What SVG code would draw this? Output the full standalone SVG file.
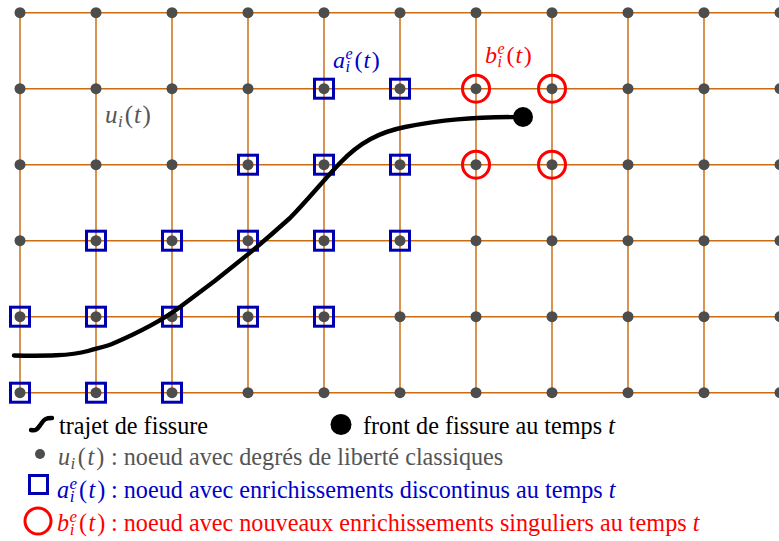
<svg xmlns="http://www.w3.org/2000/svg" width="779" height="541" viewBox="0 0 779 541">
<style>
.h{stroke:#c96c14;stroke-width:1.6;fill:none}
.v{stroke:#cd7a26;stroke-width:1.6;fill:none}
.dot{fill:#4d4d4d}
.sq{fill:none;stroke:#0000b3;stroke-width:3}
.ci{fill:none;stroke:#ff0000;stroke-width:3}
.crack{fill:none;stroke:#000;stroke-width:4.4;stroke-linecap:round;stroke-linejoin:round}
text{font-family:"Liberation Serif","Times New Roman",serif}
.lg{font-size:24.2px}
.m{font-style:italic}
.gray{fill:#555555}
.blue{fill:#0000c8}
.red{fill:#ff0000}
</style>
<defs>
<circle id="d" r="5.5" class="dot"/>
<rect id="s" x="-9.5" y="-9.5" width="19" height="19" class="sq"/>
<circle id="c" r="13.5" class="ci"/>
</defs>
<g id="grid">
<path class="h" d="M20,12.7H779M20,88.7H779M20,164.7H779M20,240.7H779M20,316.7H779M20,392.7H779"/>
<path class="v" d="M20,12.7V392.7M96,12.7V392.7M172,12.7V392.7M248,12.7V392.7M324,12.7V392.7M400,12.7V392.7M476,12.7V392.7M552,12.7V392.7M628,12.7V392.7M704,12.7V392.7"/>
</g>
<g id="nodes">
<g id="row0"><use href="#d" x="20" y="12.7"/><use href="#d" x="96" y="12.7"/><use href="#d" x="172" y="12.7"/><use href="#d" x="248" y="12.7"/><use href="#d" x="324" y="12.7"/><use href="#d" x="400" y="12.7"/><use href="#d" x="476" y="12.7"/><use href="#d" x="552" y="12.7"/><use href="#d" x="628" y="12.7"/><use href="#d" x="704" y="12.7"/><use href="#d" x="780" y="12.7"/></g>
<g id="row1"><use href="#d" x="20" y="88.7"/><use href="#d" x="96" y="88.7"/><use href="#d" x="172" y="88.7"/><use href="#d" x="248" y="88.7"/><use href="#d" x="324" y="88.7"/><use href="#d" x="400" y="88.7"/><use href="#d" x="476" y="88.7"/><use href="#d" x="552" y="88.7"/><use href="#d" x="628" y="88.7"/><use href="#d" x="704" y="88.7"/><use href="#d" x="780" y="88.7"/></g>
<g id="row2"><use href="#d" x="20" y="164.7"/><use href="#d" x="96" y="164.7"/><use href="#d" x="172" y="164.7"/><use href="#d" x="248" y="164.7"/><use href="#d" x="324" y="164.7"/><use href="#d" x="400" y="164.7"/><use href="#d" x="476" y="164.7"/><use href="#d" x="552" y="164.7"/><use href="#d" x="628" y="164.7"/><use href="#d" x="704" y="164.7"/><use href="#d" x="780" y="164.7"/></g>
<g id="row3"><use href="#d" x="20" y="240.7"/><use href="#d" x="96" y="240.7"/><use href="#d" x="172" y="240.7"/><use href="#d" x="248" y="240.7"/><use href="#d" x="324" y="240.7"/><use href="#d" x="400" y="240.7"/><use href="#d" x="476" y="240.7"/><use href="#d" x="552" y="240.7"/><use href="#d" x="628" y="240.7"/><use href="#d" x="704" y="240.7"/><use href="#d" x="780" y="240.7"/></g>
<g id="row4"><use href="#d" x="20" y="316.7"/><use href="#d" x="96" y="316.7"/><use href="#d" x="172" y="316.7"/><use href="#d" x="248" y="316.7"/><use href="#d" x="324" y="316.7"/><use href="#d" x="400" y="316.7"/><use href="#d" x="476" y="316.7"/><use href="#d" x="552" y="316.7"/><use href="#d" x="628" y="316.7"/><use href="#d" x="704" y="316.7"/><use href="#d" x="780" y="316.7"/></g>
<g id="row5"><use href="#d" x="20" y="392.7"/><use href="#d" x="96" y="392.7"/><use href="#d" x="172" y="392.7"/><use href="#d" x="248" y="392.7"/><use href="#d" x="324" y="392.7"/><use href="#d" x="400" y="392.7"/><use href="#d" x="476" y="392.7"/><use href="#d" x="552" y="392.7"/><use href="#d" x="628" y="392.7"/><use href="#d" x="704" y="392.7"/><use href="#d" x="780" y="392.7"/></g>
</g>
<g id="enriched-a">
<use href="#s" x="324" y="88.7"/><use href="#s" x="400" y="88.7"/>
<use href="#s" x="248" y="164.7"/><use href="#s" x="324" y="164.7"/><use href="#s" x="400" y="164.7"/>
<use href="#s" x="96" y="240.7"/><use href="#s" x="172" y="240.7"/><use href="#s" x="248" y="240.7"/><use href="#s" x="324" y="240.7"/><use href="#s" x="400" y="240.7"/>
<use href="#s" x="20" y="316.7"/><use href="#s" x="96" y="316.7"/><use href="#s" x="172" y="316.7"/><use href="#s" x="248" y="316.7"/><use href="#s" x="324" y="316.7"/>
<use href="#s" x="20" y="392.7"/><use href="#s" x="96" y="392.7"/><use href="#s" x="172" y="392.7"/>
</g>
<g id="enriched-b">
<use href="#c" x="476" y="88.7"/><use href="#c" x="552" y="88.7"/>
<use href="#c" x="476" y="164.7"/><use href="#c" x="552" y="164.7"/>
</g>
<g id="connectors">
<path id="crack" class="crack" d="M14,355.5 C45,356 70,356 88,351 C98,348 104,347 112,344 C140,332 160,322 180,307 C220,278 260,245 290,218 C306,202 322,182 340,163 C360,142 380,132 405,127 C440,120 470,117 523,117"/>
<circle id="crack-front" cx="523" cy="117" r="10" fill="#000"/>
</g>
<g id="labels">
<text x="105" y="123" font-size="25" class="gray"><tspan class="m">u</tspan><tspan class="m" font-size="17" dx="0.5" dy="4">i</tspan><tspan dx="2" dy="-4">(</tspan><tspan class="m" dx="1">t</tspan><tspan dx="1.5">)</tspan></text>
<text x="333" y="68" font-size="24" class="blue"><tspan class="m">a</tspan><tspan class="m" font-size="16" dx="0.5" dy="-9">e</tspan><tspan class="m" font-size="16" dx="-7.1" dy="13">i</tspan><tspan dx="4.5" dy="-4">(</tspan><tspan class="m" dx="1">t</tspan><tspan dx="1.5">)</tspan></text>
<text x="485" y="63" font-size="24" class="red"><tspan class="m">b</tspan><tspan class="m" font-size="16" dx="0.5" dy="-9">e</tspan><tspan class="m" font-size="16" dx="-7.1" dy="13">i</tspan><tspan dx="4.5" dy="-4">(</tspan><tspan class="m" dx="1">t</tspan><tspan dx="1.5">)</tspan></text>
</g>
<g id="legend">
<path class="crack" d="M31,430 C37,431 38,428 41,424 C44,419 46,418 52,418"/>
<text class="lg" x="59" y="434">trajet de fissure</text>
<circle cx="341" cy="424.5" r="10.5" fill="#000"/>
<text class="lg" x="363" y="434">front de fissure au temps <tspan class="m">t</tspan></text>
<circle cx="40" cy="454" r="5" class="dot"/>
<text class="lg gray" x="58" y="465"><tspan class="m">u</tspan><tspan class="m" font-size="17" dx="0.5" dy="4">i</tspan><tspan dx="2.5" dy="-4">(</tspan><tspan class="m" dx="1.5">t</tspan><tspan dx="2">)</tspan><tspan x="111">: noeud avec degrés de liberté classiques</tspan></text>
<rect x="29.5" y="475.5" width="18" height="18" class="sq"/>
<text class="lg blue" x="57" y="498"><tspan class="m">a</tspan><tspan class="m" font-size="17" dx="0.5" dy="-9">e</tspan><tspan class="m" font-size="17" dx="-7.5" dy="13">i</tspan><tspan dx="4.5" dy="-4">(</tspan><tspan class="m" dx="1.5">t</tspan><tspan dx="2">)</tspan><tspan x="111">: noeud avec enrichissements discontinus au temps <tspan class="m">t</tspan></tspan></text>
<circle cx="38" cy="521" r="13" class="ci"/>
<text class="lg red" x="57" y="531"><tspan class="m">b</tspan><tspan class="m" font-size="17" dx="0.5" dy="-9">e</tspan><tspan class="m" font-size="17" dx="-7.5" dy="13">i</tspan><tspan dx="4.5" dy="-4">(</tspan><tspan class="m" dx="1.5">t</tspan><tspan dx="2">)</tspan><tspan x="111">: noeud avec nouveaux enrichissements singuliers au temps <tspan class="m">t</tspan></tspan></text>
</g>
</svg>
